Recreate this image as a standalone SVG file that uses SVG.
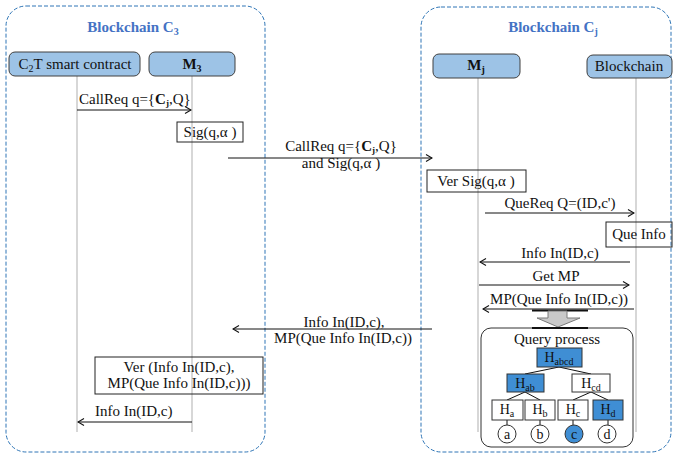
<svg xmlns="http://www.w3.org/2000/svg" width="674" height="455" viewBox="0 0 674 455" font-family="'Liberation Serif', 'DejaVu Serif', serif">
  <style>
    text { font-family: "Liberation Serif", "Times New Roman", "DejaVu Serif", serif; font-size: 15px; fill: #111; }
    .title { font-weight: bold; fill: #4472C4; font-size: 15px; }
    .mid { text-anchor: middle; }
    .b { font-weight: bold; }
    .frame { fill: none; stroke: #2E75B6; stroke-width: 1; stroke-dasharray: 4 2; }
    .head { fill: #9DC3E6; stroke: #404040; stroke-width: 1; }
    .life { stroke: #bdbdbd; stroke-width: 1.2; }
    .box { fill: none; stroke: #222; stroke-width: 1; }
    .msg { stroke: #111; stroke-width: 1; fill: none; marker-end: url(#open); }
    .tn { fill: #fff; stroke: #333; stroke-width: 1; }
    .tb { fill: #3F8ED4; stroke: #333; stroke-width: 1; }
    .edge { stroke: #111; stroke-width: 1; }
    .sub { font-size: 10px; }
    .msub { font-size: 9px; }
    .tree { font-size: 14px; }
    .tsub { font-size: 10px; }
  </style>
  <defs>
    <marker id="open" markerWidth="8" markerHeight="8" refX="7" refY="4" orient="auto" markerUnits="userSpaceOnUse">
      <path d="M1,0.5 L7,4 L1,7.5" fill="none" stroke="#111" stroke-width="1.1"/>
    </marker>
  </defs>

  <!-- chain frames -->
  <g id="chain-c3">
    <rect class="frame" x="6" y="6" width="259" height="446" rx="20"/>
    <text class="title mid" x="133" y="32">Blockchain C<tspan class="sub" dy="3">3</tspan></text>
  </g>
  <g id="chain-cj">
    <rect class="frame" x="421" y="7" width="250" height="445" rx="20"/>
    <text class="title mid" x="553" y="32">Blockchain C<tspan class="sub" dy="3">j</tspan></text>
  </g>

  <!-- lifelines -->
  <g id="lifelines">
    <line class="life" x1="77" y1="76" x2="77" y2="432"/>
    <line class="life" x1="192" y1="76" x2="192" y2="432"/>
    <line class="life" x1="478" y1="78" x2="478" y2="432"/>
    <line class="life" x1="636" y1="78" x2="636" y2="432"/>
  </g>

  <!-- participants -->
  <g id="c2t">
    <rect class="head" x="9" y="52" width="131" height="24" rx="6"/>
    <text class="mid" x="75" y="69">C<tspan class="sub" dy="3">2</tspan><tspan dy="-3">T smart contract</tspan></text>
  </g>
  <g id="m3">
    <rect class="head" x="149" y="52" width="86" height="24" rx="6"/>
    <text class="mid b" x="192" y="69">M<tspan class="sub" dy="3">3</tspan></text>
  </g>
  <g id="mj">
    <rect class="head" x="433" y="54" width="87" height="24" rx="6"/>
    <text class="mid b" x="476" y="70">M<tspan class="sub" dy="3">j</tspan></text>
  </g>
  <g id="blockchain">
    <rect class="head" x="587" y="55" width="85" height="23" rx="6"/>
    <text class="mid" x="629" y="71">Blockchain</text>
  </g>

  <!-- activity boxes -->
  <g id="sig">
    <rect class="box" x="177" y="122" width="66" height="20"/>
    <text class="mid" x="210" y="137">Sig(q,α )</text>
  </g>
  <g id="ver-sig">
    <rect class="box" x="427" y="170" width="99" height="22"/>
    <text class="mid" x="476" y="186">Ver Sig(q,α )</text>
  </g>
  <g id="que-info">
    <rect class="box" x="606" y="222" width="66" height="25"/>
    <text class="mid" x="639" y="239">Que Info</text>
  </g>
  <g id="ver-info">
    <rect class="box" x="95" y="357" width="168" height="37"/>
    <text class="mid" x="179" y="372">Ver (Info In(ID,c),</text>
    <text class="mid" x="179" y="388">MP(Que Info In(ID,c)))</text>
  </g>

  <!-- messages -->
  <g id="connectors">
    <line class="msg" x1="77" y1="110" x2="191" y2="110"/>
    <text x="79" y="104">CallReq q={<tspan class="b">C</tspan><tspan class="msub b" dy="2">j</tspan><tspan dy="-2">,Q}</tspan></text>

    <line class="msg" x1="228" y1="158" x2="432" y2="158"/>
    <text class="mid" x="341" y="151">CallReq q={<tspan class="b">C</tspan><tspan class="msub b" dy="2">j</tspan><tspan dy="-2">,Q}</tspan></text>
    <text class="mid" x="341" y="168">and Sig(q,α )</text>

    <line class="msg" x1="485" y1="213" x2="634" y2="213"/>
    <text class="mid" x="560" y="208">QueReq Q=(ID,c')</text>

    <line class="msg" x1="630" y1="262" x2="480" y2="262"/>
    <text class="mid" x="560" y="258">Info In(ID,c)</text>

    <line class="msg" x1="479" y1="285" x2="629" y2="285"/>
    <text class="mid" x="556" y="281">Get MP</text>

    <line class="msg" x1="634" y1="309" x2="483" y2="309"/>
    <text class="mid" x="559" y="304">MP(Que Info In(ID,c))</text>

    <line class="msg" x1="432" y1="329" x2="233" y2="329"/>
    <text class="mid" x="344" y="327">Info In(ID,c),</text>
    <text class="mid" x="343" y="343">MP(Que Info In(ID,c))</text>

    <line class="msg" x1="192" y1="422" x2="78" y2="422"/>
    <text x="95" y="416">Info In(ID,c)</text>
  </g>

  <!-- query process panel -->
  <g id="query-process">
    <line x1="532" y1="310.5" x2="588" y2="310.5" stroke="#111" stroke-width="2"/>
    <path d="M548,311 H567 V318 H580 L558,327 L537,318 H548 Z" fill="#c9c9c9" stroke="#7a7a7a" stroke-width="1"/>
    <rect x="481" y="328" width="152" height="119" rx="10" fill="#fff" stroke="#333" stroke-width="1"/>
    <line x1="532" y1="328" x2="588" y2="328" stroke="#111" stroke-width="2"/>
    <text class="mid" x="557" y="344">Query process</text>

    <line class="edge" x1="559" y1="367" x2="525" y2="374"/>
    <line class="edge" x1="559" y1="367" x2="591" y2="374"/>
    <line class="edge" x1="525" y1="392" x2="507" y2="400"/>
    <line class="edge" x1="525" y1="392" x2="540" y2="400"/>
    <line class="edge" x1="591" y1="392" x2="573" y2="400"/>
    <line class="edge" x1="591" y1="392" x2="608" y2="400"/>
    <line class="edge" x1="507" y1="420" x2="507" y2="425"/>
    <line class="edge" x1="540" y1="420" x2="540" y2="425"/>
    <line class="edge" x1="573" y1="420" x2="573" y2="425"/>
    <line class="edge" x1="608" y1="420" x2="608" y2="425"/>

    <rect class="tb" x="537" y="348" width="45" height="19"/>
    <text class="mid tree" x="559" y="362">H<tspan class="tsub" dy="3">abcd</tspan></text>

    <rect class="tb" x="507" y="374" width="37" height="18"/>
    <text class="mid tree" x="525" y="388">H<tspan class="tsub" dy="3">ab</tspan></text>
    <rect class="tn" x="572" y="374" width="38" height="18"/>
    <text class="mid tree" x="591" y="388">H<tspan class="tsub" dy="3">cd</tspan></text>

    <rect class="tn" x="492" y="400" width="31" height="20"/>
    <text class="mid tree" x="507" y="414">H<tspan class="tsub" dy="3">a</tspan></text>
    <rect class="tn" x="525" y="400" width="30" height="20"/>
    <text class="mid tree" x="540" y="414">H<tspan class="tsub" dy="3">b</tspan></text>
    <rect class="tn" x="558" y="400" width="30" height="20"/>
    <text class="mid tree" x="573" y="414">H<tspan class="tsub" dy="3">c</tspan></text>
    <rect class="tb" x="593" y="400" width="30" height="20"/>
    <text class="mid tree" x="608" y="414">H<tspan class="tsub" dy="3">d</tspan></text>

    <circle class="tn" cx="507" cy="434" r="9"/>
    <text class="mid tree" x="507" y="439">a</text>
    <circle class="tn" cx="540" cy="434" r="9"/>
    <text class="mid tree" x="540" y="439">b</text>
    <circle class="tb" cx="574" cy="434" r="9"/>
    <text class="mid tree" x="574" y="439">c</text>
    <circle class="tn" cx="607" cy="434" r="9"/>
    <text class="mid tree" x="607" y="439">d</text>
  </g>
</svg>
